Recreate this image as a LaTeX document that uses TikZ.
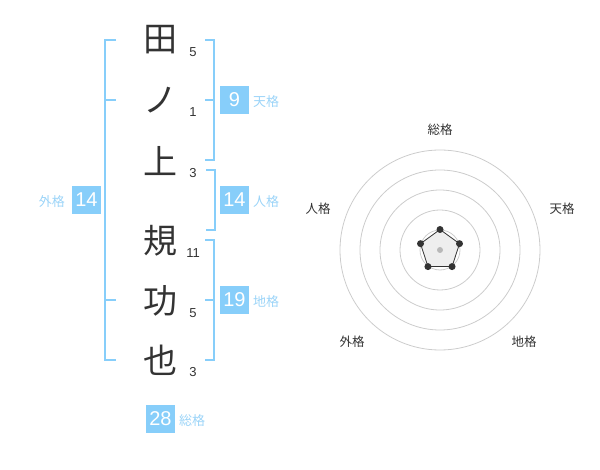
\documentclass[tikz,border=0pt]{standalone}
\usepackage{fontspec}
\setmainfont{Liberation Sans}
\newfontfamily\jpfont{Noto Sans CJK JP}
\usetikzlibrary{calc, positioning}
\definecolor{cKaku}{HTML}{87CEFA}
\definecolor{cKakuTxt}{HTML}{9BD4F8}
\definecolor{cInk}{HTML}{333333}
\definecolor{cRing}{HTML}{CCCCCC}
\definecolor{cArea}{HTML}{EEEEEE}
\tikzset{
    kanji/.style={font=\jpfont\fontsize{34}{34}\selectfont, text=cInk, inner sep=0pt},
    strokes/.style={font=\fontsize{13}{13}\selectfont, text=cInk, inner sep=0pt},
    kaku/.style={fill=cKaku, text=white, minimum width=28.5pt, minimum height=28.5pt,
                 inner sep=0pt, font=\fontsize{20}{20}\selectfont},
    kname/.style={font=\jpfont\fontsize{13}{13}\selectfont, text=cKakuTxt, inner sep=0pt},
    brk/.style={draw=cKaku, line width=2pt},
    ring/.style={draw=cRing, line width=0.8pt},
    area/.style={draw=cInk, fill=cArea, line width=0.8pt},
    vtx/.style={circle, fill=cInk, inner sep=0pt, minimum size=7pt},
    axlbl/.style={font=\jpfont\fontsize{12.5}{12.5}\selectfont, text=cInk, inner sep=0pt},
}

\begin{document}
\begin{tikzpicture}[x=1pt, y=-1pt]

\useasboundingbox (0,0) rectangle (600,470);

\foreach \nm/\ch/\yy/\st in {%
    c1/田/40/5, c2/ノ/100/1, c3/上/161/3,
    c4/規/241/11, c5/功/301/5, c6/也/360/3}{%
    \node[kanji] (\nm) at (160,\yy) {\ch};
    \node[strokes] (\nm n) at (193,\yy+12.5) {\st};
}

\draw[brk] (116,40) -- (105,40) -- (105,360) -- (116,360);
\draw[brk] (105,100) -- (116,100);
\draw[brk] (105,300) -- (116,300);
\draw[brk] (205,40) -- (214,40) -- (214,160) -- (205,160);
\draw[brk] (205,100) -- (214,100);
\draw[brk] (206,170) -- (215,170) -- (215,230) -- (206,230);
\draw[brk] (205,240) -- (214,240) -- (214,360) -- (205,360);
\draw[brk] (205,300) -- (214,300);

\node[kaku] (ten)   at (234.5,100) {9};
\node[kaku] (jin)   at (234.5,200) {14};
\node[kaku] (chi)   at (234.5,300) {19};
\node[kaku] (gai)   at (86.5,200)  {14};
\node[kaku] (sou)   at (160.5,419) {28};
\node[kname, right=4pt of ten, yshift=-2pt] (tenL) {天格};
\node[kname, right=4pt of jin, yshift=-2pt] (jinL) {人格};
\node[kname, right=4pt of chi, yshift=-2pt] (chiL) {地格};
\node[kname, left=7pt of gai, yshift=-2pt]  (gaiL) {外格};
\node[kname, right=4pt of sou, yshift=-2pt] (souL) {総格};

\coordinate (ctr) at (440,250);
\foreach \r in {20,40,60,80,100}{%
    \draw[ring] (ctr) circle (\r);
}
\foreach \i/\a in {1/-90, 2/-18, 3/54, 4/126, 5/-162}{%
    \coordinate (v\i) at ($(ctr)+(\a:20.5)$);
}
\draw[area] (v1) -- (v2) -- (v3) -- (v4) -- (v5) -- cycle;
\node[circle, fill=cRing!90!black, inner sep=0pt, minimum size=6pt] (dot) at (ctr) {};
\foreach \i in {1,...,5}{%
    \node[vtx] (p\i) at (v\i) {};
}

\node[axlbl] (aSou) at (440,130)   {総格};
\node[axlbl] (aTen) at (562,208.5) {天格};
\node[axlbl] (aChi) at (524,342)   {地格};
\node[axlbl] (aGai) at (352,342)   {外格};
\node[axlbl] (aJin) at (318,208.5) {人格};

\end{tikzpicture}
\end{document}
